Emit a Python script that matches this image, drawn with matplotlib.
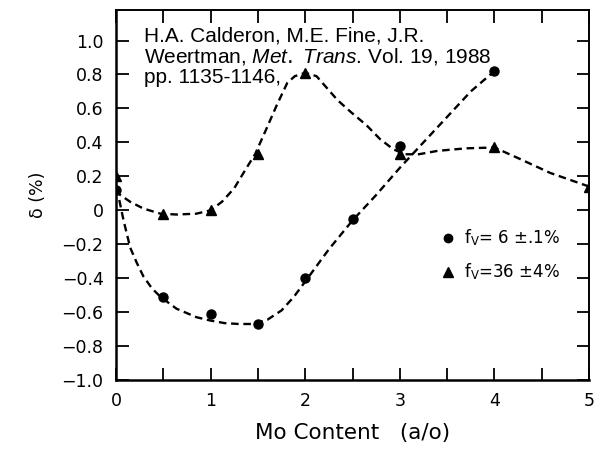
import matplotlib
matplotlib.use("Agg")
import matplotlib.pyplot as plt
from matplotlib.lines import Line2D
from matplotlib.ticker import MultipleLocator

# measured points, fv = 6 +- 1 %
mo_circ = [0.0, 0.5, 1.0, 1.5, 2.0, 2.5, 3.0, 4.0]
delta_circ = [0.12, -0.51, -0.61, -0.67, -0.40, -0.05, 0.38, 0.82]

# measured points, fv = 36 +- 4 %
mo_tri = [0.0, 0.5, 1.0, 1.5, 2.0, 3.0, 4.0, 5.0]
delta_tri = [0.20, -0.02, 0.0, 0.33, 0.81, 0.33, 0.37, 0.14]

# dashed guide curves as drawn in the figure
fit_circ_x = [0.0, 0.02, 0.08, 0.15, 0.22, 0.29, 0.38, 0.47, 0.64, 0.85, 1.0,
              1.15, 1.3, 1.45, 1.6, 1.75, 1.88, 2.0, 2.25, 2.5, 2.75, 3.0, 3.25,
              3.5, 3.75, 4.0]
fit_circ_y = [0.13, 0.10, -0.06, -0.22, -0.31, -0.39, -0.46, -0.51, -0.58,
              -0.63, -0.65, -0.665, -0.67, -0.67, -0.645, -0.59, -0.51, -0.42,
              -0.23, -0.06, 0.09, 0.25, 0.40, 0.55, 0.70, 0.82]

fit_tri_x = [0.0, 0.02, 0.15, 0.29, 0.47, 0.64, 0.85, 1.0, 1.12, 1.25, 1.38,
             1.47, 1.59, 1.70, 1.81, 1.89, 2.0, 2.12, 2.23, 2.34, 2.48, 2.65,
             2.79, 2.93, 3.05, 3.2, 3.4, 3.7, 4.0, 4.24, 4.59, 5.0]
fit_tri_y = [0.12, 0.10, 0.05, 0.01, -0.02, -0.025, -0.02, 0.0, 0.05, 0.13,
             0.25, 0.33, 0.48, 0.62, 0.75, 0.79, 0.81, 0.79, 0.72, 0.65, 0.58,
             0.50, 0.42, 0.36, 0.33, 0.33, 0.35, 0.365, 0.37, 0.31, 0.22, 0.14]

legend_labels = [r"f$_\mathrm{V}$= 6 ±.1%", r"f$_\mathrm{V}$=36 ±4%"]
citation = ("H.A. Calderon, M.E. Fine, J.R.\n"
            r"Weertman, $\it{Met.\ Trans}$. Vol. 19, 1988" "\n"
            "pp. 1135-1146,")

plt.rcParams["font.family"] = "DejaVu Sans"
plt.rcParams["mathtext.fontset"] = "custom"
plt.rcParams["mathtext.rm"] = "DejaVu Sans"
plt.rcParams["mathtext.it"] = "Liberation Sans:italic"

fig = plt.figure(figsize=(6.04, 4.51), dpi=100)
ax = fig.add_axes([116 / 604, 1 - 380 / 451, 473 / 604, 370 / 451])

dash = dict(color="k", lw=1.7, ls=(0, (3.2, 2.0)))
ax.plot(fit_circ_x, fit_circ_y, **dash)
ax.plot(fit_tri_x, fit_tri_y, **dash)
ax.plot(mo_circ, delta_circ, ls="none", marker="o", ms=6.5, color="k")
ax.plot(mo_tri, delta_tri, ls="none", marker="^", ms=7, color="k")

ax.set_xlim(0, 5)
ax.set_ylim(-1.0, 1.18)
ax.xaxis.set_major_locator(MultipleLocator(1))
ax.xaxis.set_minor_locator(MultipleLocator(0.5))
ax.set_yticks([-1.0, -0.8, -0.6, -0.4, -0.2, 0.0, 0.2, 0.4, 0.6, 0.8, 1.0])
ax.set_yticklabels(["\u22121.0", "\u22120.8", "\u22120.6", "\u22120.4", "\u22120.2",
                    "0", "0.2", "0.4", "0.6", "0.8", "1.0"])
ax.tick_params(which="both", direction="in", length=9, width=1.3,
               top=True, right=True, labelsize=12.5, pad=9)
for side in ["left", "bottom"]:
    ax.spines[side].set_linewidth(1.8)
for side in ["top", "right"]:
    ax.spines[side].set_linewidth(1.4)

ax.set_xlabel("Mo Content   (a/o)", fontsize=15.5, labelpad=9)
ax.set_ylabel("δ (%)", fontsize=12.5, labelpad=10)

ax.text(0.059, 0.955, citation, transform=ax.transAxes, va="top", ha="left",
        fontsize=15, family="Liberation Sans", linespacing=1.05)

handles = [Line2D([], [], ls="none", marker="o", ms=6, color="k"),
           Line2D([], [], ls="none", marker="^", ms=6.5, color="k")]
ax.legend(handles, legend_labels, loc="upper left", bbox_to_anchor=(0.687, 0.412),
          frameon=False, fontsize=12, handlelength=0.8, handletextpad=0.6,
          labelspacing=0.8, borderpad=0, borderaxespad=0)

fig.savefig("out.png", dpi=100)
